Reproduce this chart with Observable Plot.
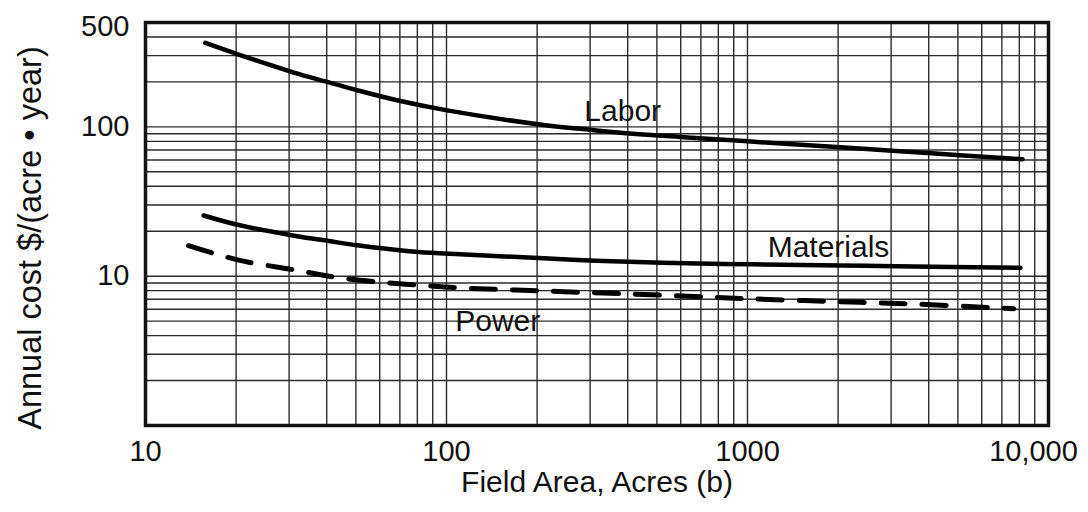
<!DOCTYPE html>
<html>
<head>
<meta charset="utf-8">
<script src="https://cdn.jsdelivr.net/npm/d3@7"></script>
<script src="https://cdn.jsdelivr.net/npm/@observablehq/plot@0.6"></script>
<style>
  html, body { margin: 0; padding: 0; background: #fff; }
  #chart svg { display: block; }
</style>
</head>
<body>
<div id="chart"></div>
<script>
// Annual irrigation cost per acre versus field area (log–log)
const areaLabor = [15.8, 20.4, 31.1, 40.2, 50.5, 70.3, 100.5, 210, 310, 415, 632, 1104, 2037, 3102, 5220, 8195];
const costLabor = [365, 305, 231, 200, 176, 149, 129, 103, 95, 90, 85, 79, 73, 69, 64.4, 60.7];

const areaMaterials = [15.6, 20.4, 31.5, 40.6, 50.5, 62, 81, 111, 210, 313, 521, 1023, 2037, 3102, 8070];
const costMaterials = [25.5, 22, 18.6, 17.2, 16.1, 15.3, 14.5, 14, 13.2, 12.7, 12.3, 12, 11.8, 11.66, 11.4];

const areaPower = [13.9, 20.4, 31.5, 43.3, 60.4, 82, 111, 215, 408, 735, 1023, 1931, 3663, 7660];
const costPower = [16, 12.8, 11, 9.8, 9.1, 8.7, 8.35, 7.95, 7.6, 7.25, 7.05, 6.77, 6.5, 6.05];

// Curve names with the (area, cost) point each name is written at
const seriesNames = ["Labor", "Materials", "Power"];
const nameArea = [385, 1858, 148];
const nameCost = [126, 15.5, 5.0];

const xTicks = [10, 100, 1000, 10000];
const xTickLabels = ["10", "100", "1000", "10,000"];
const yTicks = [10, 100, 500];
const yTickLabels = ["10", "100", "500"];

const xTitle = "Field Area, Acres (b)";
const yTitle = "Annual cost $/(acre \u2022 year)";

const toRows = (areas, costs) => areas.map((a, i) => ({area: a, cost: costs[i]}));
const labor = toRows(areaLabor, costLabor);
const materials = toRows(areaMaterials, costMaterials);
const power = toRows(areaPower, costPower);
const names = seriesNames.map((n, i) => ({name: n, area: nameArea[i], cost: nameCost[i]}));

const xDomain = [10, 10000];
const yDomain = [1, 500];
// Log-paper grid: every integer multiple inside each decade
const xGrid = d3.scaleLog().domain(xDomain).ticks();
const yGrid = d3.scaleLog().domain(yDomain).ticks();

const font = "'Liberation Sans', Arial, Helvetica, sans-serif";
const fmtX = d => xTickLabels[xTicks.indexOf(d)];
const fmtY = d => yTickLabels[yTicks.indexOf(d)];
const gridStyle = {stroke: "#2b2b2b", strokeWidth: 1.4};
const tickText = {tickSize: 0, fontSize: 29, fill: "#111", label: null};

const chart = Plot.plot({
  width: 1088,
  height: 512,
  marginLeft: 145,
  marginRight: 40,
  marginTop: 22,
  marginBottom: 87,
  style: {fontFamily: font, background: "#fff", color: "#111"},
  x: {type: "log", domain: xDomain, axis: null},
  y: {type: "log", domain: yDomain, axis: null},
  marks: [
    Plot.ruleX(xGrid, gridStyle),
    Plot.ruleY(yGrid, gridStyle),
    Plot.frame({stroke: "#111", strokeWidth: 3.5}),

    Plot.axisX(xTicks.slice(0, 3), {...tickText, tickPadding: 15, tickFormat: fmtX}),
    Plot.axisX([10000], {...tickText, tickPadding: 15, tickFormat: fmtX, dx: -15}),
    Plot.axisY(yTicks.slice(0, 2), {...tickText, tickPadding: 16, tickFormat: fmtY}),
    Plot.axisY([500], {...tickText, tickPadding: 16, tickFormat: fmtY, dy: 4}),

    Plot.line(labor, {x: "area", y: "cost", curve: "catmull-rom", stroke: "#000", strokeWidth: 4.5}),
    Plot.line(materials, {x: "area", y: "cost", curve: "catmull-rom", stroke: "#000", strokeWidth: 4.5}),
    Plot.line(power, {x: "area", y: "cost", curve: "catmull-rom", stroke: "#000", strokeWidth: 5, strokeDasharray: "24,17"}),

    Plot.text(names, {x: "area", y: "cost", text: "name", fontSize: 30, fill: "#111"}),

    Plot.text([xTitle], {frameAnchor: "bottom", dy: 66, fontSize: 30, fill: "#111"}),
    Plot.text([yTitle], {frameAnchor: "left", textAnchor: "middle", rotate: -90, dx: -115, dy: 14, fontSize: 32.5, fill: "#111"})
  ]
});

document.getElementById("chart").appendChild(chart);
</script>
</body>
</html>
